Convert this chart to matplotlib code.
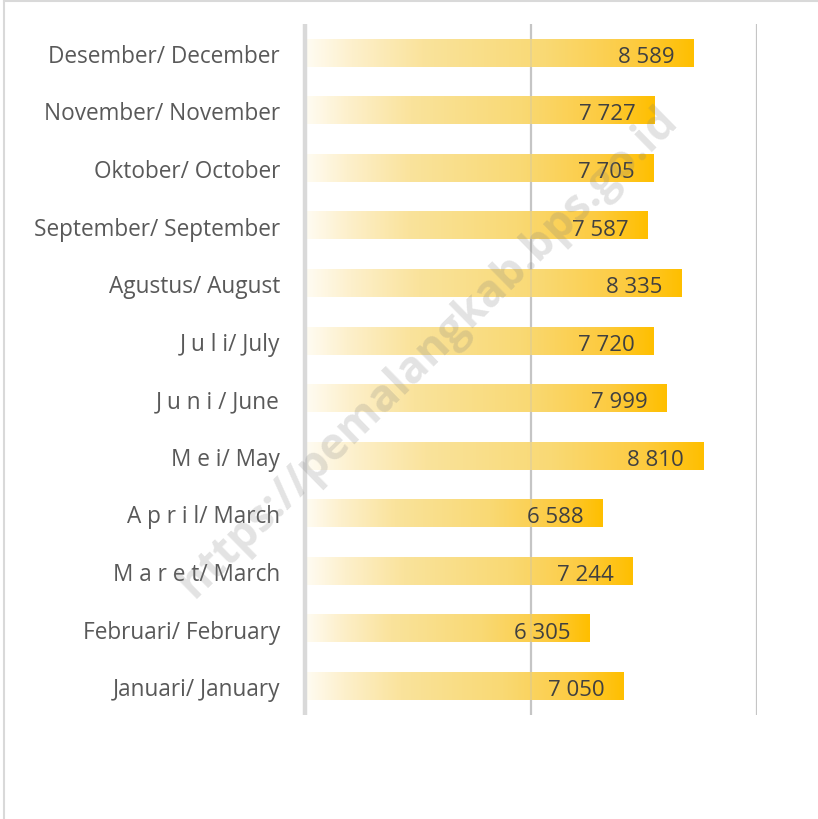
import numpy as np
import matplotlib
matplotlib.use('Agg')
import matplotlib.pyplot as plt
from matplotlib.colors import LinearSegmentedColormap
from matplotlib.lines import Line2D

plt.rcParams['font.family'] = ['Open Sans', 'DejaVu Sans']

# ============================================================
# Data (bottom -> top)
# ============================================================
months = ['Januari/ January', 'Februari/ February', 'M a r e t/ March',
          'A p r i l/ March', 'M e i/ May', 'J u n i / June', 'J u l i/ July',
          'Agustus/ August', 'September/ September', 'Oktober/ October',
          'November/ November', 'Desember/ December']
values = [7050, 6305, 7244, 6588, 8810, 7999, 7720, 8335, 7587, 7705, 7727, 8589]
value_labels = ['7 050', '6 305', '7 244', '6 588', '8 810', '7 999', '7 720',
                '8 335', '7 587', '7 705', '7 727', '8 589']
grid_ticks = [0, 5000, 10000]

# ============================================================
# Figure
# ============================================================
fig = plt.figure(figsize=(8.18, 8.20), dpi=100)
ax = fig.add_axes([305 / 818, 104 / 820, 452 / 818, 691 / 820])

gold = LinearSegmentedColormap.from_list('gold', [
    (0.00, '#FFFCF3'), (0.12, '#FDF0CC'), (0.30, '#FAE39C'),
    (0.62, '#F9D974'), (0.85, '#FDCB40'), (1.00, '#FFBF00')])
grad = np.linspace(0, 1, 256).reshape(1, -1)

bar_h = 0.48
y = np.arange(len(months))
for yi, v in zip(y, values):
    ax.imshow(grad, cmap=gold, aspect='auto', interpolation='bilinear',
              extent=[0, v, yi - bar_h / 2, yi + bar_h / 2], zorder=2)

for yi, v, lab in zip(y, values, value_labels):
    ax.annotate(lab, xy=(v, yi), xytext=(-19, -1), textcoords='offset pixels',
                ha='right', va='center_baseline', fontsize=16, color='#404040', zorder=5)

# gridlines
for t in grid_ticks:
    if t == 0:
        ax.axvline(t, color='#D9D9D9', lw=3.2, zorder=4, clip_on=False,
                   solid_capstyle='butt')
    else:
        ax.axvline(t, color='#C8C8C8', lw=1.6, zorder=1, solid_capstyle='butt')
        ax.axvline(t, color='#BFBFBF', lw=1.2, alpha=0.35, zorder=3,
                   solid_capstyle='butt')

ax.set_xlim(0, 10000)
ax.set_ylim(-0.5, len(months) - 0.5)
ax.set_yticks(y)
ax.set_yticklabels(months, fontsize=16.3, color='#595959')
ax.set_xticks([])
ax.tick_params(axis='y', length=0, pad=18)
for s in ax.spines.values():
    s.set_visible(False)

# watermark
fig.text(428 / 818, 1 - 352 / 820, 'https://pemalangkab.bps.go.id', rotation=44.5,
         ha='center', va='center', fontsize=32, fontweight='bold',
         color='#808080', alpha=0.22, zorder=10)

# frame (top and left edges)
fig.add_artist(Line2D([4 / 818, 1], [1 - 2 / 820, 1 - 2 / 820], color='#D9D9D9', lw=1.5))
fig.add_artist(Line2D([4 / 818, 4 / 818], [0, 1 - 2 / 820], color='#D9D9D9', lw=1.5))

plt.savefig('out.png', dpi=100)
